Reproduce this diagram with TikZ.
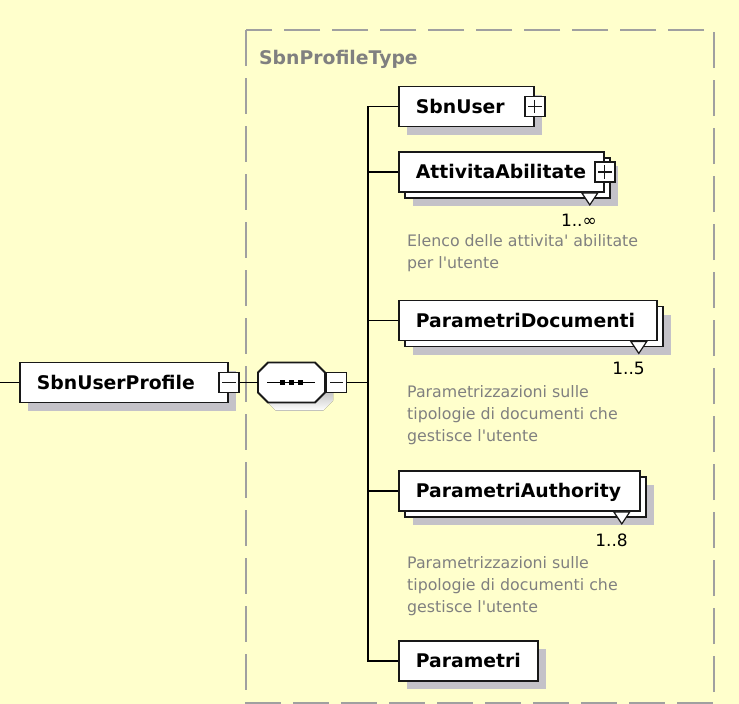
\documentclass[tikz,border=0pt]{standalone}
\usepackage{fontspec}
\setmainfont{DejaVu Sans}
\usetikzlibrary{calc,shadows}

\definecolor{paper}{RGB}{255,255,204}
\definecolor{shade}{RGB}{196,194,200}
\definecolor{frameline}{RGB}{160,160,160}
\definecolor{notetext}{RGB}{128,128,128}
\definecolor{ink}{RGB}{24,24,24}

\tikzset{
  elem/.style={draw=ink, line width=1.8pt, fill=white, anchor=west,
    minimum height=40pt, inner xsep=17pt, inner ysep=0pt, align=left,
    text height=13.7pt, text depth=0pt, text width=#1,
    font=\fontsize{18.8}{20}\selectfont\bfseries},
  shadowed/.style={drop shadow={shadow xshift=8pt, shadow yshift=-8pt,
    fill=shade, opacity=1}},
  backbox/.style={draw=ink, line width=1.8pt, fill=white, anchor=west,
    minimum height=40pt, minimum width=#1, inner sep=0pt},
  togglebox/.style={draw=ink, line width=1.4pt, fill=white,
    minimum size=20pt, inner sep=0pt},
  sign/.style={line width=1.3pt, draw=ink},
  wire/.style={line width=1.4pt, draw=black},
  multi/.style={draw=ink, line width=1.2pt, fill=white},
  count/.style={anchor=base east, inner sep=0pt,
    font=\fontsize{17}{18}\selectfont},
  note/.style={anchor=base west, inner sep=0pt, align=left,
    text=notetext, font=\fontsize{15.8}{22}\selectfont},
  typename/.style={anchor=base west, inner sep=0pt, text=notetext,
    font=\fontsize{18.8}{20}\selectfont\bfseries},
  groupframe/.style={draw=frameline, line width=2pt,
    dash pattern=on 36pt off 12pt},
}

\begin{document}
\begin{tikzpicture}[x=1pt,y=-1pt]
\useasboundingbox (0,0) rectangle (739,704);
\fill[paper] (0,0) rectangle (739,704);

% complex type group
\draw[groupframe] (246,30) rectangle (714,703);
\node[typename] (ttl) at (259,64) {SbnProfileType};

% helper coordinates
\coordinate (lin) at (0,382.5);
\coordinate (spine) at (368,0);

% root element
\node[elem=174pt, shadowed] (prof) at (19,382.5) {SbnUserProfile};
\node[togglebox] (profx) at (prof.east) {};
\draw[sign] ($(profx.west)+(4,0)$) -- ($(profx.east)+(-4,0)$);

% sequence compositor
\node[minimum width=67pt, minimum height=40pt, inner sep=0pt, anchor=west] (seq) at (258,382.5) {};
\fill[shade, shift={(8,8)}] (268,362.5) -- (315,362.5) -- (325,372.5) -- (325,392.5)
  -- (315,402.5) -- (268,402.5) -- (258,392.5) -- (258,372.5) -- cycle;
\draw[draw=ink, line width=1.8pt, fill=white] (268,362.5) -- (315,362.5) -- (325,372.5)
  -- (325,392.5) -- (315,402.5) -- (268,402.5) -- (258,392.5) -- (258,372.5) -- cycle;
\draw[line width=1.4pt] (267,382.5) -- (315,382.5);
\foreach \d in {282,291,300} \fill (\d-2.5,380) rectangle (\d+2.5,385);
\node[togglebox, anchor=west] (seqx) at (326,382.5) {};
\draw[sign] ($(seqx.west)+(4,0)$) -- ($(seqx.east)+(-4,0)$);

\draw[wire] (lin) -- (prof.west);
\draw[wire] (profx.east) -- (seq.west);
\draw[wire] (seqx.east) -- (seqx.east -| spine);

% SbnUser
\node[elem=101pt, shadowed] (user) at (398,106.5) {SbnUser};
\node[togglebox] (userx) at (user.east) {};
\draw[sign] ($(userx.west)+(4,0)$) -- ($(userx.east)+(-4,0)$);
\draw[sign] ($(userx.north)+(0,4)$) -- ($(userx.south)+(0,-4)$);

% AttivitaAbilitate
\node[backbox=205pt, shadowed] (attb) at (404,178) {};
\node[elem=171pt] (att) at (398,172) {AttivitaAbilitate};
\draw[multi] ($(att.south east)+(-23,0)$) -- ($(att.south east)+(-7,0)$)
  -- ($(att.south east)+(-15,12)$) -- cycle;
\node[togglebox] (attx) at (att.east) {};
\draw[sign] ($(attx.west)+(4,0)$) -- ($(attx.east)+(-4,0)$);
\draw[sign] ($(attx.north)+(0,4)$) -- ($(attx.south)+(0,-4)$);
\node[count] (attn) at (597,226) {1..∞};
% multi-line notes are anchored at the baseline of their last line
\node[note] (attd) at (407,268) {Elenco delle attivita\textquotesingle{} abilitate\\per l\textquotesingle utente};

% ParametriDocumenti
\node[backbox=258pt, shadowed] (docb) at (404,326.5) {};
\node[elem=224pt] (doc) at (398,320.5) {ParametriDocumenti};
\draw[multi] ($(doc.south east)+(-27,0)$) -- ($(doc.south east)+(-11,0)$)
  -- ($(doc.south east)+(-19,12)$) -- cycle;
\node[count] (docn) at (645,374) {1..5};
\node[note] (docd) at (407,441) {Parametrizzazioni sulle\\tipologie di documenti che\\gestisce l\textquotesingle utente};

% ParametriAuthority
\node[backbox=241pt, shadowed] (authb) at (404,497) {};
\node[elem=207pt] (auth) at (398,491) {ParametriAuthority};
\draw[multi] ($(auth.south east)+(-27,0)$) -- ($(auth.south east)+(-11,0)$)
  -- ($(auth.south east)+(-19,12)$) -- cycle;
\node[count] (authn) at (628,546) {1..8};
\node[note] (authd) at (407,612) {Parametrizzazioni sulle\\tipologie di documenti che\\gestisce l\textquotesingle utente};

% Parametri
\node[elem=105pt, shadowed] (par) at (398,661) {Parametri};

% connectors from the sequence to its children
\draw[wire] (user.west) -- (user.west -| spine) |- (par.west);
\draw[wire] (att.west) -- (att.west -| spine);
\draw[wire] (doc.west) -- (doc.west -| spine);
\draw[wire] (auth.west) -- (auth.west -| spine);
\end{tikzpicture}
\end{document}
